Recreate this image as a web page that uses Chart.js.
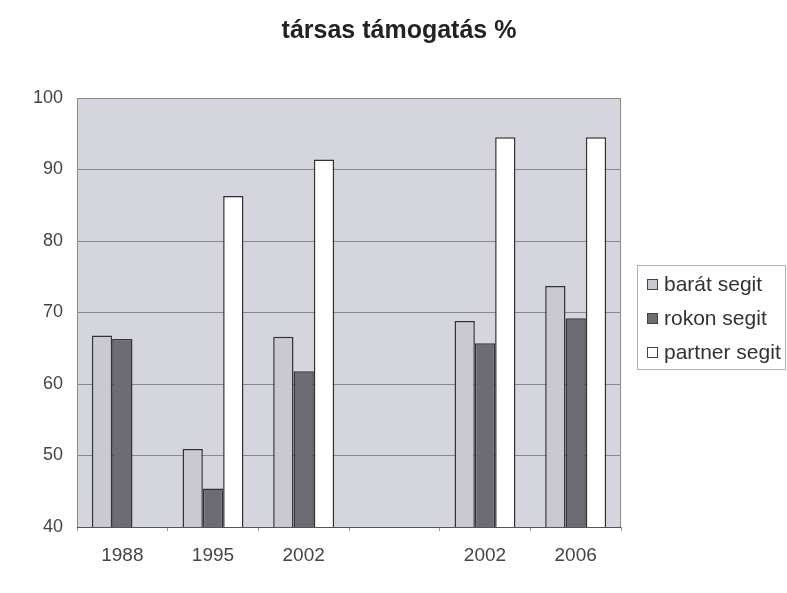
<!DOCTYPE html>
<html>
<head>
<meta charset="utf-8">
<script src="https://cdn.jsdelivr.net/npm/chart.js@4/dist/chart.umd.min.js"></script>
<style>
  html, body { margin: 0; padding: 0; background: #fff; }
  #wrap { width: 787px; height: 593px; position: relative; }
</style>
</head>
<body>
<div id="wrap"><canvas id="chart"></canvas></div>
<script>
const chartTitle = 'társas támogatás %';
const years = ['1988', '1995', '2002', '', '2002', '2006'];
const seriesNames = ['barát segit', 'rokon segit', 'partner segit'];
const baratSegit = [66.8, 50.9, 66.6, null, 68.8, 73.7];
const rokonSegit = [66.3, 45.4, 61.8, null, 65.7, 69.2];
const partnerSegit = [null, 86.3, 91.4, null, 94.5, 94.5];
const yTicks = [40, 50, 60, 70, 80, 90, 100];

const FONT = "'Liberation Sans', Arial, sans-serif";
const fills = ['#c9c9d1', '#6c6c74', '#ffffff'];

// plot background, frame, title and boxed legend
const decor = {
  id: 'decor',
  beforeDraw(chart) {
    const { ctx, chartArea: a } = chart;
    ctx.save();
    ctx.fillStyle = '#d5d5de';
    ctx.fillRect(a.left, a.top, a.right - a.left, a.bottom - a.top);
    ctx.restore();
  },
  afterDatasetsDraw(chart) {
    const { ctx, chartArea: a } = chart;
    ctx.save();
    ctx.strokeStyle = '#8a8a8a';
    ctx.lineWidth = 1;
    ctx.strokeRect(a.left + 0.5, a.top + 0.5, a.right - a.left - 1, a.bottom - a.top);
    ctx.strokeStyle = '#555';
    ctx.beginPath();
    ctx.moveTo(a.left, a.bottom + 0.5);
    ctx.lineTo(a.right, a.bottom + 0.5);
    ctx.stroke();
    ctx.restore();
  },
  afterDraw(chart) {
    const { ctx } = chart;
    ctx.save();
    ctx.fillStyle = '#222';
    ctx.font = 'bold 25px ' + FONT;
    ctx.textAlign = 'center';
    ctx.textBaseline = 'middle';
    ctx.fillText(chartTitle, 399, 31);

    // legend
    ctx.strokeStyle = '#b0b0b0';
    ctx.lineWidth = 1;
    ctx.strokeRect(637.5, 265.5, 148, 104);
    ctx.font = '21px ' + FONT;
    ctx.textAlign = 'left';
    chart.data.datasets.forEach((ds, i) => {
      const y = 284 + i * 34;
      ctx.fillStyle = ds.backgroundColor;
      ctx.fillRect(647, y - 5, 11, 11);
      ctx.strokeStyle = '#444';
      ctx.strokeRect(647.5, y - 4.5, 10, 10);
      ctx.fillStyle = '#333';
      ctx.fillText(ds.label, 664, y + 1);
    });
    ctx.restore();
  }
};

const datasets = [baratSegit, rokonSegit, partnerSegit].map((vals, i) => ({
  label: seriesNames[i],
  data: vals,
  backgroundColor: fills[i],
  borderColor: '#333',
  borderWidth: 1.5,
  categoryPercentage: 0.672,
  barPercentage: 1
}));

new Chart(document.getElementById('chart'), {
  type: 'bar',
  data: { labels: years, datasets },
  plugins: [decor],
  options: {
    responsive: true,
    maintainAspectRatio: false,
    animation: false,
    layout: { padding: { top: 98, right: 166, left: 0, bottom: 0 } },
    plugins: {
      legend: { display: false },
      title: { display: false },
      tooltip: { enabled: false }
    },
    scales: {
      x: {
        offset: true,
        grid: {
          offset: true,
          drawOnChartArea: false,
          drawTicks: true,
          tickLength: 4,
          color: '#999'
        },
        border: { display: false },
        ticks: {
          color: '#444',
          font: { family: FONT, size: 19 },
          padding: 13,
          maxRotation: 0
        },
        afterFit(scale) { scale.height = 66; }
      },
      y: {
        min: 40,
        max: 100,
        afterBuildTicks(scale) { scale.ticks = yTicks.map(v => ({ value: v })); },
        grid: { color: '#888', lineWidth: 1, drawTicks: false },
        border: { display: false },
        ticks: {
          color: '#444',
          font: { family: FONT, size: 18 },
          padding: 14
        },
        afterFit(scale) { scale.width = 77; }
      }
    }
  }
});
</script>
</body>
</html>
